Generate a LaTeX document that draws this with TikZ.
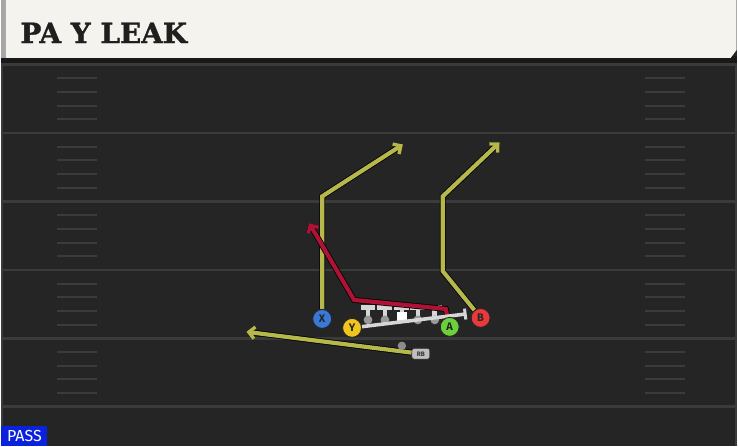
\documentclass[tikz,border=0pt]{standalone}
\usepackage{fontspec}
\setsansfont{Fira Sans}
\newfontfamily\titlefont[FakeBold=1.2]{DejaVu Serif Bold}
\usepackage{xcolor}
\usetikzlibrary{arrows.meta}

\definecolor{fieldbg}{HTML}{252525}
\definecolor{fieldline}{HTML}{3B3B3B}
\definecolor{headbg}{HTML}{F5F3EE}
\definecolor{routey}{HTML}{B6B84C}
\definecolor{router}{HTML}{AE1235}
\definecolor{blockg}{HTML}{D6D6D6}
\definecolor{passblue}{HTML}{0B22DD}

\begin{document}
\begin{tikzpicture}[x=1pt,y=-1pt,
  player/.style={circle, draw=black!85, line width=0.9pt, minimum size=19pt, inner sep=0pt, font=\sffamily\bfseries\fontsize{11}{11}\selectfont, text=black!85},
  route/.style={line width=4.2pt, draw=routey, preaction={draw=black, line width=5.8pt}},
  tip/.style={-{Straight Barb[length=6pt,width=12pt,line width=3.4pt]}},
  blocker/.style={line width=4.6pt, draw=blockg},
  hash/.style={line width=2pt, draw=fieldline}]

% field
\fill[fieldbg] (0,0) rectangle (738,448);
\fill[fieldline] (0,60) rectangle (2,448);
\fill[fieldline] (736,60) rectangle (738,448);
\foreach \k in {0,...,5}
  \draw[line width=2.6pt, fieldline] (0,65+68.6*\k) -- (738,65+68.6*\k);
\foreach \j in {1,...,24}{
  \pgfmathtruncatemacro{\m}{mod(\j,5)}
  \ifnum\m>0
    \draw[hash] (56,65+13.72*\j) -- (96,65+13.72*\j);
    \draw[hash] (646,65+13.72*\j) -- (686,65+13.72*\j);
  \fi}

% header
\fill[black!90] (0,56) rectangle (738,63);
\fill[headbg] (4,0) -- (738,0) -- (738,50) -- (732,58) -- (4,58) -- cycle;
\fill[black!35] (0,0) rectangle (4,58);
\node[anchor=west, inner sep=0pt, font=\titlefont\fontsize{28}{28}\selectfont, text=black!88] (title) at (19,33) {PA Y LEAK};

% offensive line
\foreach \x in {368,385,418,435}{
  \draw[blocker] (\x-7.5,308.5) -- (\x+7.5,308.5);
  \draw[blocker] (\x,308.5) -- (\x,320);
  \fill[black!40] (\x,321) circle (4.4);
}
\draw[blocker] (394.5,308.5) -- (409.5,308.5);
\draw[blocker] (402,308.5) -- (402,315);
\fill[white] (397,313) rectangle (407,323);

% players
\node[player, fill={rgb,255:red,58;green,120;blue,216}] (X) at (322,320) {X};
\node[player, fill={rgb,255:red,242;green,197;blue,28}] (Y) at (352,329) {Y};
\node[player, fill={rgb,255:red,108;green,208;blue,58}] (A) at (450,328) {A};
\node[player, fill={rgb,255:red,232;green,58;blue,58}] (B) at (481,319) {B};
\node[fill=black!25, draw=black!80, line width=0.6pt, rounded corners=2.5pt, minimum width=18pt, minimum height=11pt, inner sep=0pt, font=\sffamily\bfseries\fontsize{6.5}{6.5}\selectfont, text=black!80] (RB) at (421,355) {RB};

% route points
\coordinate (xbreak) at (322,197);
\coordinate (xend) at (403,145);
\coordinate (bkink) at (443,272);
\coordinate (bbreak) at (443,197);
\coordinate (bend) at (500,143);
\coordinate (aup) at (446,310);
\coordinate (acut) at (354,301);
\coordinate (aend) at (309,224);
\coordinate (yblock) at (467,315);
\coordinate (rbend) at (246,333);

% routes
\draw[route, tip] (X) -- (xbreak) -- (xend);
\draw[route, tip] (B) -- (bkink) -- (bbreak) -- (bend);
\draw[route, draw=router, tip] (A) -- (aup) -- (acut) -- (aend);
\draw[route, tip] (RB) -- (rbend);
\draw[line width=3.6pt, draw=blockg, -{Bar[width=11pt,line width=3pt]}] (Y) -- (yblock);
\fill[black!45] (402,347) circle (4.2) coordinate (qb);

\node[player, fill={rgb,255:red,58;green,120;blue,216}] at (X) {X};
\node[player, fill={rgb,255:red,242;green,197;blue,28}] at (Y) {Y};
\node[player, fill={rgb,255:red,108;green,208;blue,58}] at (A) {A};
\node[player, fill={rgb,255:red,232;green,58;blue,58}] at (B) {B};

% formation tag
\node[anchor=south west, fill=passblue, text=white, inner sep=0pt, minimum width=46pt, minimum height=20pt, font=\sffamily\fontsize{16}{16}\selectfont] (tag) at (0,448) {PASS};
\end{tikzpicture}
\end{document}
